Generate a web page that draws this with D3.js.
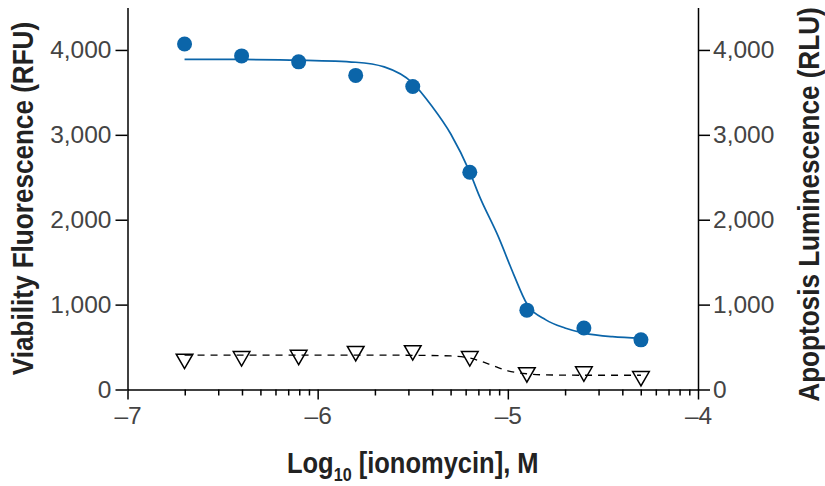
<!DOCTYPE html>
<html lang="en">
<head>
    <meta charset="UTF-8">
    <title>Ionomycin viability / apoptosis</title>
    <script src="https://cdn.jsdelivr.net/npm/d3@7"></script>
    <style type="text/css">
        body { margin: 0; background: #fff; }
        .axis path,
        .axis line {
            fill: none;
            stroke: black;
            stroke-width: 1.5px;
        }
        .axis text {
            font-family: "Liberation Sans", Arial, sans-serif;
            font-size: 24.5px;
            fill: #444;
        }
        .title {
            font-family: "Liberation Sans Narrow", "Liberation Sans", Arial, sans-serif;
            font-weight: bold;
            font-size: 30px;
            fill: #222;
        }
    </style>
</head>
<body>
<script>
    // log10 of ionomycin concentration (M), 2-fold dilutions
    const logConc = [-6.7, -6.4, -6.1, -5.8, -5.5, -5.2, -4.9, -4.6, -4.3];
    const viability = [4070, 3930, 3860, 3700, 3570, 2560, 935, 725, 585];
    const apoptosis = [360, 390, 405, 450, 460, 390, 200, 210, 155];

    // fitted curves
    const viabilityFitX = [-6.7, -6.4, -6.1, -5.8, -5.65, -5.5, -5.4, -5.3, -5.2, -5.15, -5.05, -4.97, -4.9, -4.8, -4.7, -4.6, -4.45, -4.3];
    const viabilityFitY = [3890, 3888, 3880, 3855, 3800, 3610, 3340, 3010, 2560, 2280, 1800, 1360, 1010, 820, 725, 665, 622, 605];
    const apoptosisFitX = [-6.7, -6.4, -6.1, -5.8, -5.5, -5.3, -5.2, -5.1, -5.0, -4.9, -4.8, -4.6, -4.3];
    const apoptosisFitY = [405, 405, 405, 405, 403, 395, 370, 300, 220, 185, 172, 168, 168];

    const xTicks = [-7, -6, -5, -4];
    const yTicks = [0, 1000, 2000, 3000, 4000];

    let w = 825;
    let h = 486;
    let blue = "#0b65a9";

    let svg = d3.select("body")
                .append("svg")
                .attr("width", w)
                .attr("height", h);

    let xScale = d3.scaleLinear().domain([-7, -4]).range([127.5, 698]);
    let yScale = d3.scaleLinear().domain([0, 4500]).range([389.5, 7.5]);

    // minor log ticks between decades
    let minorTicks = xTicks.slice(0, -1).flatMap(d => d3.range(2, 10).map(k => d + Math.log10(k)));

    let dash = (d) => (d < 0 ? "\u2013" + Math.abs(d) : String(d));

    // x axis
    let xAxis = d3.axisBottom(xScale).tickValues(xTicks).tickSize(10).tickSizeOuter(0).tickPadding(7).tickFormat(dash);
    svg.append("g")
        .attr("class", "axis")
        .attr("transform", "translate(0," + yScale(0) + ")")
        .call(xAxis);
    svg.append("g")
        .attr("class", "axis")
        .attr("transform", "translate(0," + yScale(0) + ")")
        .call(d3.axisBottom(xScale).tickValues(minorTicks).tickSize(6).tickFormat(""))
        .select(".domain").remove();

    // left y axis
    let yFmt = d3.format(",");
    svg.append("g")
        .attr("class", "axis")
        .attr("transform", "translate(" + xScale(-7) + ",0)")
        .call(d3.axisLeft(yScale).tickValues(yTicks).tickSize(12).tickSizeOuter(0).tickPadding(4).tickFormat(yFmt));

    // right y axis
    svg.append("g")
        .attr("class", "axis")
        .attr("transform", "translate(" + xScale(-4) + ",0)")
        .call(d3.axisRight(yScale).tickValues(yTicks).tickSize(12).tickSizeOuter(0).tickPadding(3).tickFormat(yFmt));

    // viability fit
    let line = d3.line().x(d => xScale(d[0])).y(d => yScale(d[1])).curve(d3.curveMonotoneX);
    svg.append("path")
        .datum(d3.zip(viabilityFitX, viabilityFitY))
        .attr("d", line)
        .attr("fill", "none")
        .attr("stroke", blue)
        .attr("stroke-width", 1.7);

    // apoptosis fit (dashed)
    svg.append("path")
        .datum(d3.zip(apoptosisFitX, apoptosisFitY))
        .attr("d", line)
        .attr("fill", "none")
        .attr("stroke", "black")
        .attr("stroke-width", 1.3)
        .attr("stroke-dasharray", "7,6");

    svg.selectAll("circle.via")
        .data(d3.zip(logConc, viability))
        .enter()
        .append("circle")
        .attr("class", "via")
        .attr("cx", d => xScale(d[0]))
        .attr("cy", d => yScale(d[1]))
        .attr("r", 7.5)
        .attr("fill", blue);

    let tri = d3.symbol().type(d3.symbolTriangle).size(120);
    svg.selectAll("path.apo")
        .data(d3.zip(logConc, apoptosis))
        .enter()
        .append("path")
        .attr("class", "apo")
        .attr("d", tri)
        .attr("transform", d => "translate(" + xScale(d[0]) + "," + yScale(d[1]) + ") rotate(180)")
        .attr("fill", "none")
        .attr("stroke", "black")
        .attr("stroke-width", 1.5);

    // axis titles (condensed bold look via horizontal squeeze)
    let midY = (yScale(0) + yScale(4500)) / 2;
    svg.append("text")
        .attr("class", "title")
        .attr("text-anchor", "middle")
        .attr("transform", "translate(33," + midY + ") rotate(-90) scale(0.87,1)")
        .text("Viability Fluorescence (RFU)");

    svg.append("text")
        .attr("class", "title")
        .attr("text-anchor", "middle")
        .attr("transform", "translate(819," + (midY + 6) + ") rotate(-90) scale(0.87,1)")
        .text("Apoptosis Luminescence (RLU)");

    let xt = svg.append("text")
        .attr("class", "title")
        .attr("text-anchor", "middle")
        .attr("transform", "translate(" + (xScale(-7) + xScale(-4)) / 2 + ",473) scale(0.85,1)");
    xt.append("tspan").text("Log");
    xt.append("tspan").attr("dy", 8).style("font-size", "19px").text("10");
    xt.append("tspan").attr("dy", -8).text(" [ionomycin], M");
</script>
</body>
</html>
